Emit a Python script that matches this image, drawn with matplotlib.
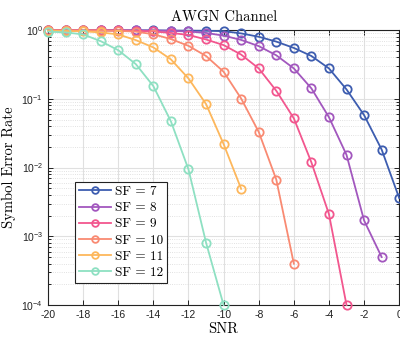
import matplotlib
matplotlib.use("Agg")
import math
import matplotlib.pyplot as plt
from matplotlib.ticker import LogLocator, FixedLocator, NullFormatter, FuncFormatter

plt.rcParams['mathtext.fontset'] = 'custom'
plt.rcParams['mathtext.rm'] = 'Liberation Sans'
plt.rcParams['mathtext.it'] = 'Liberation Sans'
plt.rcParams['axes.unicode_minus'] = False

snr = list(range(-20, 1))

sf7 = [1.0, 1.0, 0.998, 0.997, 0.995, 0.993, 0.99, 0.985, 0.98, 0.977, 0.966, 0.895, 0.80, 0.68, 0.55, 0.42, 0.277, 0.137, 0.058, 0.0183, 0.0036]
sf8 = [1.0, 0.998, 0.997, 0.995, 0.993, 0.99, 0.985, 0.975, 0.955, 0.91, 0.83, 0.72, 0.585, 0.43, 0.277, 0.142, 0.054, 0.0153, 0.0017, 0.0005]
sf9 = [1.0, 0.998, 0.996, 0.993, 0.99, 0.98, 0.955, 0.91, 0.85, 0.73, 0.605, 0.44, 0.277, 0.131, 0.052, 0.0119, 0.0021, 0.0001]
sf10 = [0.995, 0.993, 0.99, 0.985, 0.975, 0.95, 0.87, 0.74, 0.59, 0.42, 0.248, 0.101, 0.033, 0.0067, 0.0004]
sf11 = [0.98, 0.97, 0.96, 0.925, 0.865, 0.715, 0.56, 0.375, 0.198, 0.084, 0.022, 0.0049]
sf12 = [0.95, 0.925, 0.865, 0.69, 0.51, 0.32, 0.153, 0.047, 0.0094, 0.00081, 0.0001]

series = [("SF = 7", sf7), ("SF = 8", sf8), ("SF = 9", sf9),
          ("SF = 10", sf10), ("SF = 11", sf11), ("SF = 12", sf12)]
colors = ["#3D5DB0", "#A257BE", "#F2568E", "#F98A72", "#FDB75C", "#8EE0C2"]

fig = plt.figure(figsize=(4.0, 3.42), dpi=100)
ax = fig.add_axes([0.12, 0.108, 0.878, 0.804])

for (lab, vals), c in zip(series, colors):
    ax.semilogy(snr[:len(vals)], vals, '-o', color=c, lw=1.3, ms=6,
                mfc='none', mew=1.3, label=lab, clip_on=False, zorder=3)

ax.set_xlim(-20, 0)
ax.set_ylim(1e-4, 1)
ax.xaxis.set_major_locator(FixedLocator(list(range(-20, 1, 2))))
ax.yaxis.set_major_locator(LogLocator(base=10, numticks=10))
ax.yaxis.set_minor_locator(LogLocator(base=10, subs=range(2, 10), numticks=20))
ax.yaxis.set_minor_formatter(NullFormatter())

def yfmt(v, pos):
    e = int(round(math.log10(v)))
    return r'$10^{%d}$' % e
ax.yaxis.set_major_formatter(FuncFormatter(yfmt))

ax.grid(True, which='major', color='#e0e0e0', lw=0.8, zorder=0)
ax.grid(True, which='minor', axis='y', color='#d8d8d8', lw=0.6, ls=':', zorder=0)
ax.set_axisbelow(True)

ax.tick_params(which='both', direction='in', top=True, right=True, labelsize=7.5,
               width=0.7, colors='#222222')
ax.tick_params(which='major', length=3.5)
ax.tick_params(which='minor', length=2)
for lab in ax.get_xticklabels() + ax.get_yticklabels():
    lab.set_fontfamily('Liberation Sans')
for s in ax.spines.values():
    s.set_color('#222222')
    s.set_linewidth(0.8)

serif = 'cmr10'
ax.set_title('AWGN Channel', fontfamily=serif, fontsize=10.5, pad=6.5)
ax.set_xlabel('SNR', fontfamily=serif, fontsize=10.5, labelpad=2)
ax.set_ylabel('Symbol Error Rate', fontfamily=serif, fontsize=10.5, labelpad=4)

leg = ax.legend(loc='upper left', bbox_to_anchor=(0.077, 0.448), prop={'family': serif, 'size': 9.5},
                fancybox=False, edgecolor='#222222', framealpha=1, handlelength=2.4,
                markerscale=0.8, borderpad=0.3, labelspacing=0.3, handletextpad=0.3,
                borderaxespad=0)
leg.get_frame().set_linewidth(0.8)

fig.savefig('out.png', dpi=100)
